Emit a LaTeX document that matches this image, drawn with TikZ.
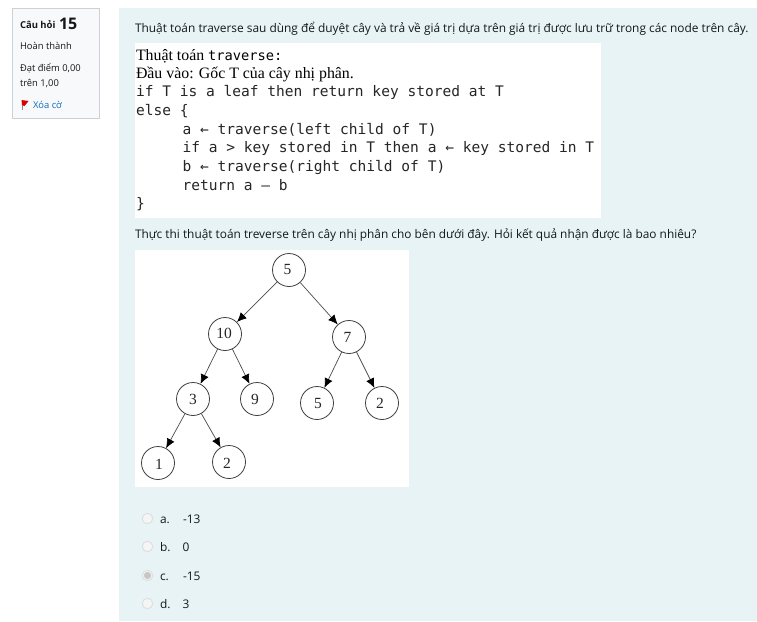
\documentclass[tikz,border=0pt]{standalone}
\usepackage{fontspec}
\setmainfont{Open Sans}
\newfontfamily\codefont{DejaVu Sans Mono}
\newfontfamily\seriffont{Liberation Serif}
\usetikzlibrary{arrows.meta}
\definecolor{pagebg}{HTML}{E7F3F5}
\definecolor{sidebg}{HTML}{F8F9FA}
\definecolor{sideline}{HTML}{CDD1D6}
\definecolor{inktext}{HTML}{14181C}
\definecolor{linktext}{HTML}{0F6CBF}
\tikzset{
  x=1pt,y=-1pt,
  txt/.style={anchor=base west,inner sep=0pt,outer sep=0pt,text=inktext},
  ui/.style={txt,font=\fontsize{9.4}{12}\selectfont},
  body/.style={txt,font=\fontsize{11.9}{14}\selectfont},
  code/.style={txt,text=black!85,font=\codefont\fontsize{14.55}{16}\selectfont},
  ser/.style={txt,text=black,font=\seriffont\fontsize{15.85}{18}\selectfont},
  key/.style={circle,draw=black!75,line width=0.8pt,minimum size=33pt,inner sep=0pt},
  keylabel/.style={inner sep=0pt,text=black!85,font=\seriffont\fontsize{15.5}{17}\selectfont},
  edge/.style={draw=black!70,line width=0.7pt,-{Latex[length=9.5pt,width=8.5pt,black]}},
  radio/.style={circle,draw=black!13,fill=black!4,line width=0.9pt,minimum size=10.5pt,inner sep=0pt},
}
\begin{document}
\begin{tikzpicture}
\useasboundingbox (0,0) rectangle (757,621);
\fill[white] (0,0) rectangle (757,621);
\fill[pagebg] (119,8) rectangle (757,621);
\filldraw[fill=sidebg,draw=sideline,line width=0.7pt] (12.5,8.5) rectangle (99.5,118.5);
% sidebar
\node[txt,font=\bfseries\fontsize{9.5}{12}\selectfont] (qa) at (20,28) {Câu hỏi};
\node[txt,font=\bfseries\fontsize{16}{18}\selectfont] (qn) at (59,29) {15};
\node[ui] (st) at (20,49.5) {Hoàn thành};
\node[ui] (gr1) at (20,71) {Đạt điểm 0,00};
\node[ui] (gr2) at (20,86) {trên 1,00};
\fill[black!45] (22,100) rectangle (23,110);
\fill[red!85!black] (21.5,100) -- (28.5,101) -- (24.5,106) -- (22,105) -- cycle;
\node[ui,text=linktext] (fl) at (33,108.5) {Xóa cờ};
% text
\node[body] (q1) at (135,32) {Thuật toán traverse sau dùng để duyệt cây và trả về giá trị dựa trên giá trị được lưu trữ trong các node trên cây.};
\fill[white] (135,43) rectangle (601,218);
\node[ser] (c1) at (136,60) {Thuật toán {\codefont\fontsize{13.7}{16}\selectfont traverse:}};
\node[ser] (c2) at (136,78) {Đầu vào: Gốc T của cây nhị phân.};
\node[code] (c3) at (136,96) {if T is a leaf then return key stored at T};
\node[code] (c4) at (136,115) {else \{};
\node[code] (c5) at (182.5,134) {a ← traverse(left child of T)};
\node[code] (c6) at (182.5,152) {if a > key stored in T then a ← key stored in T};
\node[code] (c7) at (182.5,171) {b ← traverse(right child of T)};
\node[code] (c8) at (182.5,190) {return a – b};
\node[code] (c9) at (136,208) {\}};
\node[body,font=\fontsize{11.87}{14}\selectfont] (q2) at (135,238) {Thực thi thuật toán treverse trên cây nhị phân cho bên dưới đây. Hỏi kết quả nhận được là bao nhiêu?};
\fill[white] (135,250) rectangle (409,487);
% tree
\node[key] (n5) at (289,270) {};
\node[key] (n10) at (225,334) {};
\node[key] (n7) at (349,337) {};
\node[key] (n3) at (193,399) {};
\node[key] (n9) at (257,399) {};
\node[key] (m5) at (317,403) {};
\node[key] (m2) at (382,403) {};
\node[key] (n1) at (158,463) {};
\node[key] (n2) at (229,462) {};
\node[keylabel] (t5) at (287.5,269.5) {5};
\node[keylabel] (t10) at (224,333.5) {10};
\node[keylabel] (t7) at (347.5,337) {7};
\node[keylabel] (t3) at (193,399.5) {3};
\node[keylabel] (t9) at (255,399.5) {9};
\node[keylabel] (u5) at (318,403) {5};
\node[keylabel] (u2) at (380,403) {2};
\node[keylabel] (t1) at (159,464) {1};
\node[keylabel] (t2) at (227,463) {2};
\draw[edge] (n5) -- (n10);
\draw[edge] (n5) -- (n7);
\draw[edge] (n10) -- (n3);
\draw[edge] (n10) -- (n9);
\draw[edge] (n7) -- (m5);
\draw[edge] (n7) -- (m2);
\draw[edge] (n3) -- (n1);
\draw[edge] (n3) -- (n2);
% options
\node[radio] (ra) at (147.5,518.5) {};
\node[radio] (rb) at (147.5,546.5) {};
\node[radio] (rc) at (147.5,575.5) {};
\node[radio] (rd) at (147.5,603.5) {};
\fill[black!22] (rc) circle (3.6);
\node[body] (la) at (160,523) {a.};
\node[body] (lb) at (160,551) {b.};
\node[body] (lc) at (160,580) {c.};
\node[body] (ld) at (160,608) {d.};
\node[body] (va) at (183,523) {-13};
\node[body] (vb) at (182.5,551) {0};
\node[body] (vc) at (183,580) {-15};
\node[body] (vd) at (182.5,608) {3};
\end{tikzpicture}
\end{document}
